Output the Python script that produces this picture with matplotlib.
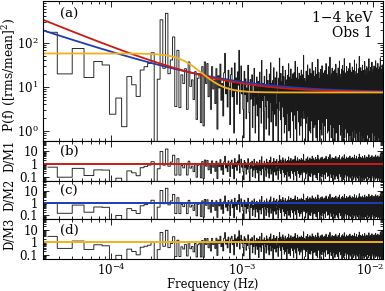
import numpy as np
import matplotlib
matplotlib.use('Agg')
import matplotlib.pyplot as plt
import matplotlib.transforms as mtransforms
from matplotlib.ticker import LogLocator, FixedLocator, FixedFormatter, NullFormatter

plt.rcParams['font.family'] = ['DejaVu Serif']
plt.rcParams['mathtext.fontset'] = 'dejavuserif'
plt.rcParams['font.size'] = 8.5

# ---------------- data ----------------
freq_start = 3.27e-5      # Hz, centre of first periodogram bin
freq_step = 1.16e-5       # Hz, periodogram resolution

# periodogram, low-frequency part (read bin by bin)
psd_low = [175, 19.8, 75, 16.4, 38, 31.6, 2.4, 5.6, 1.25, 17.2,
           11.2, 6.1, 24.3, 28.9, 34.4, 60, 0.3, 15, 336, 26.6,
           472, 20, 41, 137, 3.6, 68, 3.4, 18.8, 12, 26,
           3.1, 37, 10.3, 14.5, 5.2, 22.3, 1.83, 15.8, 20, 1.55,
           29, 1.3, 37, 12, 34, 6, 17, 3.1, 29, 9,
           14.5, 4.2, 26, 1.1, 18, 9.5, 33, 5, 12, 2.2,
           21, 58, 7, 15, 3.5, 24, 10, 1.4, 19, 27,
           6, 13, 0.9, 35, 8, 16, 4, 22, 11, 68,
           2.5, 14, 30, 7]

# periodogram, high-frequency part (estimated noise band)
psd_high_text = """
12.4 3.1 0.7 22.5 6.8 15.2 1.9 9.4 4.6 31.0 8.1 2.6 0.3 14.7 5.3 11.2 18.9 1.2 7.5 3.8 26.4 6.2 0.9 10.5 4.1
16.8 2.2 8.9 13.3 0.5 5.7 21.7 3.4 9.8 1.5 40.2 7.1 4.9 12.0 2.8 0.2 17.5 6.5 10.9 3.6 1.1 24.8 8.4 5.0 14.1
2.0 9.2 0.8 19.6 4.4 7.7 35.5 1.6 11.8 6.0 3.0 13.9 0.4 8.6 27.3 5.5 2.4 10.1 16.2 4.0 1.3 7.3 22.0 9.9 3.3
6.6 0.6 15.8 2.9 11.5 45.1 4.8 8.2 1.8 20.3 5.9 0.1 13.0 7.0 3.5 29.7 9.5 2.1 17.1 4.3 0.9 10.7 6.3 23.9 1.4
8.8 3.9 14.4 0.3 7.9 18.2 2.5 12.6 5.1 33.8 1.0 9.1 4.7 16.5 6.9 0.7 11.0 25.6 3.2 8.0 2.7 15.0 5.8 1.7 19.9
4.2 10.3 0.5 7.2 21.1 2.3 13.6 6.1 38.4 3.7 9.0 1.1 16.0 5.4 0.2 11.9 8.3 28.1 2.9 6.7 14.8 4.5 1.6 9.7 20.6
7.4 0.8 12.2 3.4 17.7 5.6 1.3 10.0 24.2 6.4 2.0 14.0 8.7 0.4 19.0 4.9 11.4 3.0 52.3 7.8 1.9 9.3 5.2 15.6 2.6
13.1 6.0 0.6 8.5 3.8 22.9 1.5 10.8 5.0 16.9 7.6 2.2 31.7 4.1 0.3 12.8 9.6 2.7 18.4 6.2 1.0 14.3 4.6 26.0 8.1
3.3 11.7 0.9 7.0 20.0 5.3 1.7 13.5 9.2 2.4 36.1 6.8 4.0 0.2 15.4 8.9 3.6 10.4 23.3 1.2 7.3 17.3 5.7 2.1 12.5
9.8 1.4 6.5 27.8 3.9 14.9 0.7 8.0 4.3 19.4 11.1 2.8 6.9 0.5 16.3 5.1 42.7 9.0 3.1 12.9 7.7 1.8 21.4 4.8 10.2
2.5 15.5 6.3 0.4 11.3 8.4 3.5 25.1 1.1 9.6 5.9 18.0 2.3 13.7 7.1 0.8 30.4 4.4 10.6 6.6 1.6 14.6 3.2 20.8 8.2
5.5 0.3 12.1 7.9 2.0 17.9 4.7 9.4 1.3 23.6 6.0 11.6 3.8 0.6 15.1 8.6 2.9 34.2 5.2 10.0 1.9 13.2 7.4 4.0 19.2
11.4 3.0 0.9 8.3 16.6 5.8 2.2 12.7 28.9 6.7 1.0 9.9 4.2 21.9 7.5 0.2 14.2 3.4 10.8 47.5 5.6 2.5 8.7 17.0 1.4
6.1 13.4 4.6 0.7 9.1 19.7 2.7 7.2 11.9 3.6 26.7 1.5 15.7 5.3 8.9 0.4 12.3 6.4 2.1 22.6 9.5 4.9 1.2 16.4 7.0
3.7 10.5 24.5 1.8 6.9 14.5 0.5 8.1 4.5 18.6 11.0 2.6 7.6 32.9 5.0 0.9 13.0 3.9 9.7 1.6 20.4 6.3 15.3 2.4 8.5
12.7 0.6 5.4 17.4 3.1 9.3 1.1 27.0 7.3 4.1 14.1 0.3 10.9 6.8 2.0 21.2 8.8 3.3 38.9 5.7 1.4 11.8 7.9 16.1 2.9
4.3 9.0 0.8 14.8 6.2 2.3 19.8 11.5 5.1 1.0 8.4 25.4 3.5 12.4 7.1 0.2 16.8 4.8 10.1 2.7 30.9 6.6 1.7 13.8 9.6
7.8 2.1 15.9 5.9 0.5 10.6 23.1 3.7 8.2 1.3 12.9 44.0 6.0 4.4 17.6 0.7 9.2 2.8 14.0 5.5 20.9 1.9 7.2 11.2 3.4
10.3 6.5 1.1 18.1 4.0 8.6 0.4 13.6 29.4 2.5 7.4 15.0 5.3 1.6 11.7 3.0 22.4 8.0 0.9 12.0 6.1 2.2 17.2 4.7 9.8
1.5 14.7 7.6 3.6 26.3 0.3 9.4 5.6 12.2 2.0 19.1 6.9 10.7 4.2 0.8 35.0 8.3 3.1 15.2 1.2 11.3 6.4 23.0 2.6 7.7
13.3 4.9 0.6 9.0 17.8 3.2 7.0 1.8 21.5 11.0 5.8 0.2 14.4 8.1 2.4 28.2 6.2 10.4 3.8 1.0 16.7 5.0 12.6 7.5 2.9
19.3 1.4 8.7 5.2 0.5 12.8 3.5 24.0 9.7 6.7 2.1 15.8 4.3 41.0 7.9 1.1 11.1 3.0 18.5 6.0 0.7 13.9 8.5 2.3 10.0
5.7 16.0 2.7 9.5 0.4 7.1 22.7 4.1 13.1 1.6 10.5 33.4 6.3 3.3 15.6 0.9 8.8 5.1 12.3 2.0 20.1 7.3 1.3 11.6 4.5
9.1 3.7 14.6 0.6 6.6 18.8 2.5 10.8 25.9 5.4 1.2 8.0 13.5 4.0 0.3 17.0 7.7 2.8 11.4 49.3 6.1 1.9 9.9 15.4 3.1
7.0 12.5 1.0 5.9 20.7 3.4 8.6 0.5 14.9 10.2 2.2 6.8 27.5 4.6 1.5 11.9 7.2 3.9 16.9 0.8 9.3 5.3 22.1 2.6 13.7
4.8 8.3 0.2 11.8 6.4 2.0 17.5 9.0 31.3 3.6 1.4 13.2 7.8 5.0 0.7 19.5 10.6 2.9 8.9 15.7 4.2 1.1 12.0 6.6 23.8
2.4 10.9 5.5 0.4 14.2 7.4 3.0 21.8 1.7 9.6 12.7 4.4 38.0 6.9 0.9 16.2 8.4 2.6 11.3 5.1 1.3 18.3 7.6 3.5 13.0
8.7 0.6 15.1 4.9 10.1 2.3 24.9 6.2 1.0 12.4 9.2 3.8 17.7 0.3 7.1 29.0 5.6 2.1 14.5 10.7 4.0 1.6 20.2 6.8 9.4
3.2 13.8 7.9 1.2 11.2 5.3 0.8 18.9 8.2 2.8 26.9 6.0 12.1 4.6 0.5 15.9 9.7 3.4 7.3 43.8 2.0 10.3 5.8 1.5 16.6
6.9 11.7 2.5 0.7 9.0 22.3 4.3 14.3 7.5 1.8 12.6 3.1 19.0 5.7 0.2 10.9 8.0 27.7 3.7 6.3 1.1 15.3 9.5 4.7 13.4
1.9 8.6 17.3 5.2 0.4 12.2 6.7 3.3 23.4 10.0 2.4 7.8 14.1 0.9 36.7 4.8 11.5 6.1 1.4 9.1 18.0 3.0 12.9 7.0 2.7
15.0 5.4 1.0 10.4 7.7 20.5 3.6 0.6 13.3 8.5 4.1 25.3 1.7 11.0 6.5 2.2 16.4 9.3 0.3 14.0 5.9 30.1 7.2 3.8 10.8
4.5 12.0 8.1 1.3 19.7 6.0 2.9 11.1 0.8 15.5 9.9 3.5 7.4 22.8 1.6 13.6 5.0 0.5 17.9 8.8 4.2 39.6 6.4 2.3 12.4
9.6 2.0 14.8 6.7 0.6 10.6 4.4 27.1 8.3 1.2 12.8 5.6 18.7 3.2 0.9 11.4 7.1 2.6 21.0 9.0 5.2 1.8 15.8 7.9 3.4
13.9 0.4 8.0 5.5 17.1 2.8 10.2 34.5 4.0 1.4 12.3 7.5 0.7 16.0 6.2 3.0 24.4 9.7 1.1 11.0 5.0 19.3 2.5 8.6 14.4
6.0 10.9 3.9 0.5 13.0 7.3 1.9 20.0 9.1 4.6 0.2 15.2 11.8 2.7 28.5 6.6 1.0 10.5 17.6 3.6 8.2 0.8 12.7 5.3 46.0
2.1 9.4 16.3 4.8 1.5 11.6 7.0 25.7 3.3 0.6 14.6 8.9 5.7 2.4 19.6 10.3 0.3 13.1 6.8 3.7 22.5 1.2 9.8 7.6 4.1
12.0 5.8 0.9 17.4 8.4 2.9 11.3 31.9 6.3 1.6 14.2 4.3 9.2 0.5 20.8 7.7 3.1 12.6 5.1 1.0 16.1 8.7 2.2 10.6 6.9
"""
psd_high = [float(v) for v in psd_high_text.split()]

# model parameters (M1: red, M2: blue, M3: yellow)
f_ref = 3e-5
m1_norm, m1_index, m1_const = 328.5, 1.22, 7.5
m2_norm, m2_index, m2_const = 185.5, 1.00, 7.5
m3_amp, m3_fbreak, m3_slope, m3_const = 50.3, 4.0e-4, 5.0, 7.5

panel_tags = ['(a)', '(b)', '(c)', '(d)']
ratio_labels = ['D/M1', 'D/M2', 'D/M3']
energy_text = '1\u22124 keV'
obs_text = 'Obs 1'

col_red = '#cc1a12'
col_blue = '#1f3cb4'
col_yel = '#f2b01e'

# ---------------- derived ----------------
psd = np.array(psd_low + psd_high)
freq = freq_start + freq_step * np.arange(len(psd))


def model1(f):
    return m1_norm * (f / f_ref) ** (-m1_index) + m1_const


def model2(f):
    return m2_norm * (f / f_ref) ** (-m2_index) + m2_const


def model3(f):
    return m3_amp / (1.0 + (f / m3_fbreak) ** m3_slope) + m3_const


models = [model1, model2, model3]
cols = [col_red, col_blue, col_yel]

fgrid = np.logspace(np.log10(3e-5), np.log10(1.2e-2), 600)

fig = plt.figure(figsize=(3.85, 2.91), dpi=100)
gs = fig.add_gridspec(4, 1, height_ratios=[140, 40, 38.5, 40], hspace=0,
                      left=0.112, right=0.995, top=0.9966, bottom=0.11)
axes = [fig.add_subplot(gs[i]) for i in range(4)]

data_kw = dict(where='mid', color='#1a1a1a', lw=0.65)

ax0 = axes[0]
ax0.step(freq, psd, **data_kw)
ax0.plot(fgrid, model2(fgrid), color=col_blue, lw=1.3)
ax0.plot(fgrid, model1(fgrid), color=col_red, lw=1.3)
ax0.plot(fgrid, model3(fgrid), color=col_yel, lw=1.3)
ax0.set_yscale('log')
ax0.set_ylim(0.6, 900)
ax0.set_ylabel('P(f) ([rms/mean]$^2$)', fontsize=8.8)
ax0.yaxis.set_label_coords(-0.078, 0.47)
ax0.text(0.97, 0.88, energy_text, transform=ax0.transAxes, ha='right', va='center',
         fontsize=10)
ax0.text(0.97, 0.77, obs_text, transform=ax0.transAxes, ha='right', va='center',
         fontsize=10)

for i, ax in enumerate(axes[1:]):
    ratio = psd / models[i](freq)
    ax.step(freq, ratio, **data_kw)
    ax.axhline(1.0, color=cols[i], lw=1.4)
    ax.set_yscale('log')
    ax.set_ylim(0.05, 70)
    ax.yaxis.set_major_locator(FixedLocator([0.1, 1, 10]))
    ax.yaxis.set_major_formatter(FixedFormatter(['0.1', '1', '10']))
    ax.set_ylabel(ratio_labels[i], fontsize=8.3)
    ax.yaxis.set_label_coords(-0.078, 0.62)

for i, ax in enumerate(axes):
    ax.set_xscale('log')
    ax.set_xlim(3e-5, 1.2e-2)
    ax.yaxis.set_minor_locator(LogLocator(base=10, subs=np.arange(2, 10), numticks=20))
    ax.yaxis.set_minor_formatter(NullFormatter())
    ax.xaxis.set_minor_locator(LogLocator(base=10, subs=np.arange(2, 10), numticks=20))
    ax.xaxis.set_minor_formatter(NullFormatter())
    ax.tick_params(which='both', direction='in', top=True, right=True, width=0.6,
                   labelsize=8.5)
    ax.tick_params(which='major', length=4)
    ax.tick_params(which='minor', length=2)
    for sp in ax.spines.values():
        sp.set_linewidth(0.8)
    ax.text(0.05, 0.905 if i == 0 else 0.72, panel_tags[i], transform=ax.transAxes,
            ha='left', va='center', fontsize=9.5)
    if i < 3:
        ax.tick_params(labelbottom=False)

axes[3].tick_params(axis='x', which='major', pad=2.5)
axes[3].set_xlabel('Frequency (Hz)', labelpad=0, fontsize=8.3)

# keep the right-most tick label inside the figure
fig.canvas.draw()
shift = mtransforms.ScaledTranslation(-3 / 100, 0, fig.dpi_scale_trans)
for lbl in axes[3].get_xticklabels():
    if '-2' in lbl.get_text() or '\u22122' in lbl.get_text():
        lbl.set_transform(lbl.get_transform() + shift)

fig.savefig('out.png', dpi=100)
